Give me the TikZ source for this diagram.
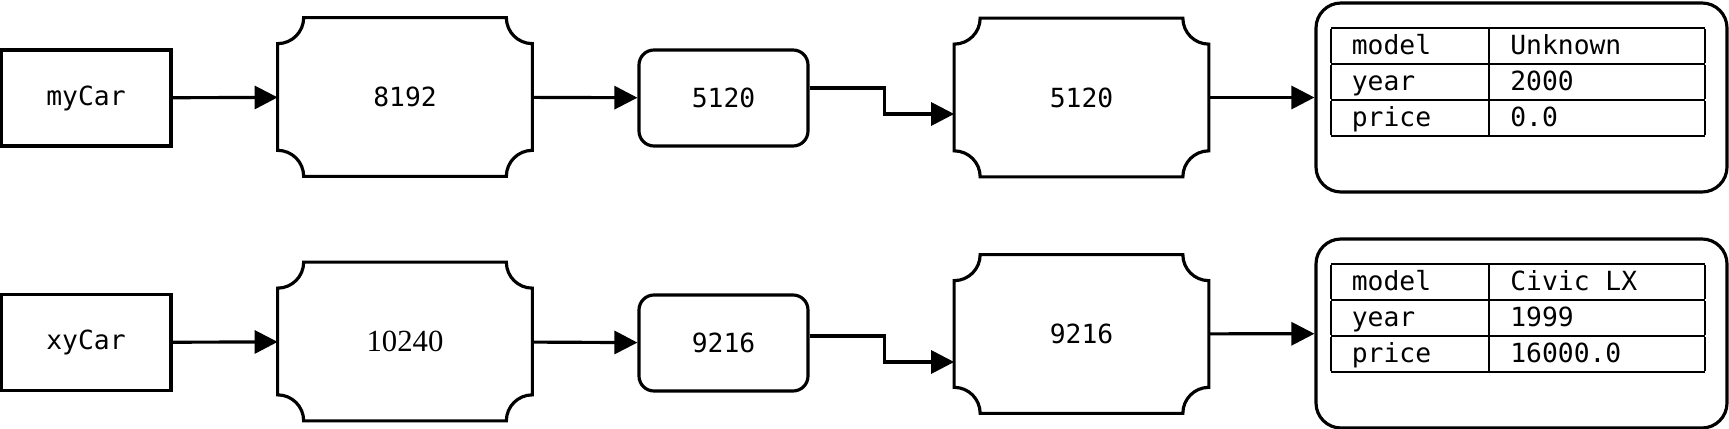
\documentclass[tikz,border=0pt]{standalone}
\usepackage{fontspec}
\setmonofont{DejaVu Sans Mono}
\newfontfamily\serifdigits{Liberation Serif}
\usepackage{tikz}
\usetikzlibrary{arrows.meta}
\tikzstyle{var}=[shape=rectangle, draw, line width=1.8pt, minimum width=3.4cm, minimum height=1.92cm]
\tikzstyle{ticket}=[shape=rectangle, inner sep=0, minimum width=5.08cm, minimum height=3.16cm]
\tikzstyle{addr}=[shape=rectangle, draw, rounded corners=0.3cm, line width=1.8pt, minimum width=3.38cm, minimum height=1.92cm]
\tikzstyle{obj}=[shape=rectangle, draw, rounded corners=0.5cm, line width=1.8pt, minimum width=8.22cm, minimum height=3.78cm]
\tikzstyle{fields}=[anchor=north west, inner sep=0]
\tikzstyle{link}=[line width=1.8pt, -{Triangle[length=0.46cm, width=0.46cm]}]
\setlength{\arrayrulewidth}{1.1pt}
\setlength{\tabcolsep}{0.42cm}
\newcommand{\notchr}{0.52cm}
\newcommand{\rowstrut}{\rule[-5pt]{0pt}{19.4pt}}
% outline with concave corners round a ticket node
\newcommand{\notched}[1]{\draw[line width=1.8pt] ([xshift=\notchr]#1.north west) -- ([xshift=-\notchr]#1.north east) arc[start angle=180, end angle=270, radius=\notchr] -- ([yshift=\notchr]#1.south east) arc[start angle=90, end angle=180, radius=\notchr] -- ([xshift=\notchr]#1.south west) arc[start angle=0, end angle=90, radius=\notchr] -- ([yshift=-\notchr]#1.north west) arc[start angle=270, end angle=360, radius=\notchr] -- cycle;}
\newcommand{\fieldtab}[3]{\begin{tabular}{|p{2.33cm}|p{3.47cm}|}\hline
\rowstrut model & #1\\\hline
\rowstrut year & #2\\\hline
\rowstrut price & #3\\\hline
\end{tabular}}

\begin{document}
\begin{tikzpicture}[font=\ttfamily\fontsize{15}{17}\selectfont]
\useasboundingbox (0,0) rectangle (34.58,-8.58);
% first row
\draw (1.72,-1.96) node[var](myCar){myCar};
\draw (8.10,-1.94) node[ticket](t8192){8192};
\draw (14.47,-1.96) node[addr](b5120){5120};
\draw (21.63,-1.95) node[ticket](t5120){5120};
\draw (30.43,-1.95) node[obj](objA){};
\draw ([xshift=0.32cm, yshift=-0.5cm]objA.north west) node[fields](tabA){\fieldtab{Unknown}{2000}{0.0}};
\notched{t8192}
\notched{t5120}
\draw[link] (myCar) -- (t8192);
\draw[link] (t8192) -- (b5120);
\draw[link] ([yshift=0.2cm]b5120.east) -- ++(1.5,0) |- ([yshift=-0.33cm]t5120.west);
\draw[link] (t5120) -- (objA);
% second row
\draw (1.72,-6.85) node[var](xyCar){xyCar};
\draw (8.10,-6.83) node[ticket, font=\serifdigits\fontsize{17.5}{20}\selectfont](t10240){10240};
\draw (14.47,-6.86) node[addr](b9216){9216};
\draw (21.63,-6.68) node[ticket](t9216){9216};
\draw (30.43,-6.67) node[obj](objB){};
\draw ([xshift=0.32cm, yshift=-0.5cm]objB.north west) node[fields](tabB){\fieldtab{Civic LX}{1999}{16000.0}};
\notched{t10240}
\notched{t9216}
\draw[link] (xyCar) -- (t10240);
\draw[link] (t10240) -- (b9216);
\draw[link] ([yshift=0.14cm]b9216.east) -- ++(1.5,0) |- ([yshift=-0.56cm]t9216.west);
\draw[link] (t9216) -- (objB);
\end{tikzpicture}
\end{document}
